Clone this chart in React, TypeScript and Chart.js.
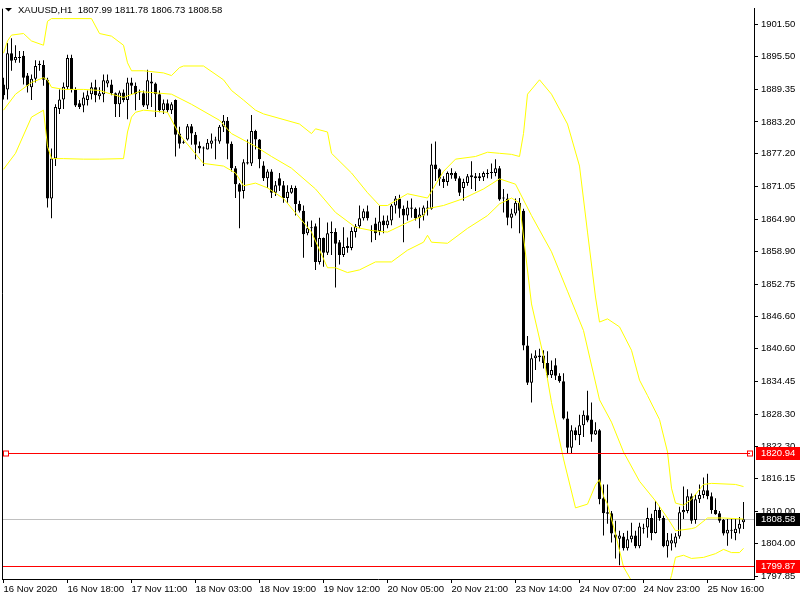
import React, { useEffect, useRef } from "react";
import { Chart, registerables } from "chart.js";
Chart.register(...registerables);

const symbolTitle = "XAUUSD,H1  1807.99 1811.78 1806.73 1808.58";

const opens = [
  1890.2, 1889.3, 1896.1, 1894.8, 1895.2, 1895.6, 1891.9, 1889.7, 1891.3, 1893.9,
  1893.9, 1891.1, 1868.8, 1876.3, 1885.6, 1887.4, 1889.7, 1895.2, 1889.3, 1886.7,
  1886.3, 1887.3, 1888.4, 1889.7, 1888.0, 1888.4, 1890.4, 1890.2, 1888.6, 1886.5,
  1888.7, 1887.3, 1890.6, 1890.0, 1888.7, 1888.6, 1886.3, 1890.8, 1890.4, 1888.4,
  1885.4, 1886.7, 1885.4, 1887.3, 1881.0, 1879.3, 1879.9, 1882.4, 1880.8, 1878.7,
  1878.2, 1878.0, 1879.1, 1879.7, 1879.5, 1882.3, 1883.4, 1879.1, 1874.5, 1871.5,
  1870.2, 1875.4, 1875.4, 1881.5, 1879.9, 1875.0, 1872.6, 1873.9, 1869.9, 1872.6,
  1871.3, 1868.9, 1869.9, 1870.8, 1867.8, 1866.5, 1862.3, 1863.2, 1863.6, 1856.9,
  1861.4, 1858.6, 1862.3, 1862.5, 1860.6, 1858.2, 1859.9, 1859.5, 1862.5, 1863.6,
  1865.1, 1866.4, 1862.7, 1864.1, 1862.7, 1864.7, 1863.8, 1864.7, 1867.5, 1868.8,
  1866.9, 1865.6, 1866.9, 1866.9, 1865.2, 1865.6, 1867.1, 1866.9, 1875.2, 1874.3,
  1872.5, 1871.9, 1873.2, 1873.6, 1872.6, 1870.8, 1871.7, 1872.8, 1873.0, 1873.0,
  1872.8, 1873.4, 1873.6, 1873.6, 1874.5, 1868.8, 1868.8, 1865.2, 1866.0, 1868.0,
  1866.5, 1841.2, 1834.2, 1838.8, 1839.3, 1839.3, 1837.9, 1835.6, 1837.5, 1835.5,
  1834.5, 1827.5, 1822.0, 1825.3, 1824.4, 1826.2, 1828.1, 1827.3, 1824.5, 1825.3,
  1812.5, 1809.9, 1809.7, 1805.7, 1804.9, 1805.3, 1803.1, 1804.8, 1805.5, 1803.5,
  1806.8, 1807.0, 1808.8, 1806.0, 1810.3, 1808.8, 1803.5, 1804.0, 1804.0, 1805.3,
  1809.9, 1810.1, 1812.9, 1808.4, 1812.3, 1813.1, 1814.0, 1812.9, 1810.3, 1809.7,
  1808.4, 1805.9, 1806.4, 1806.0, 1806.8, 1807.99,
];

const highs = [
  1891.5, 1898.0, 1898.9, 1897.6, 1896.5, 1896.5, 1892.4, 1892.1, 1894.8, 1894.7,
  1894.8, 1891.5, 1878.2, 1886.5, 1889.3, 1890.6, 1895.8, 1895.8, 1889.7, 1887.3,
  1888.7, 1889.1, 1890.6, 1891.1, 1889.7, 1892.1, 1892.1, 1891.1, 1888.7, 1889.1,
  1889.3, 1891.5, 1891.5, 1890.6, 1889.3, 1889.1, 1893.0, 1892.4, 1890.6, 1889.1,
  1887.4, 1887.4, 1886.9, 1887.4, 1882.3, 1879.7, 1882.8, 1882.8, 1881.3, 1879.5,
  1878.6, 1880.0, 1881.0, 1880.4, 1882.6, 1884.5, 1884.1, 1879.5, 1874.9, 1871.7,
  1876.2, 1879.9, 1884.5, 1881.7, 1880.0, 1875.8, 1874.3, 1874.3, 1872.1, 1873.6,
  1872.1, 1871.3, 1871.3, 1871.2, 1868.4, 1867.5, 1864.5, 1864.7, 1864.1, 1865.2,
  1861.5, 1864.3, 1864.5, 1863.2, 1861.0, 1863.4, 1861.5, 1863.4, 1864.0, 1867.5,
  1866.9, 1867.5, 1863.8, 1865.2, 1867.5, 1865.6, 1865.6, 1867.8, 1869.3, 1869.5,
  1867.5, 1868.4, 1868.8, 1867.1, 1867.1, 1867.5, 1868.4, 1879.1, 1879.5, 1874.5,
  1873.0, 1873.9, 1874.5, 1873.9, 1873.0, 1872.5, 1873.4, 1875.8, 1873.6, 1873.6,
  1873.9, 1874.3, 1875.4, 1876.2, 1874.9, 1870.6, 1869.7, 1866.9, 1868.8, 1868.9,
  1866.9, 1843.0, 1839.7, 1840.3, 1840.6, 1840.3, 1840.1, 1838.4, 1838.8, 1836.0,
  1836.0, 1828.8, 1826.2, 1825.8, 1828.2, 1829.0, 1832.7, 1830.5, 1826.8, 1825.5,
  1815.1, 1815.1, 1810.1, 1808.3, 1806.4, 1806.0, 1806.4, 1807.9, 1806.4, 1807.9,
  1807.7, 1810.7, 1809.6, 1812.0, 1811.0, 1809.2, 1806.0, 1805.9, 1806.0, 1810.9,
  1814.7, 1814.2, 1813.4, 1813.3, 1815.1, 1816.4, 1817.1, 1813.6, 1812.5, 1810.1,
  1808.6, 1808.6, 1808.6, 1808.6, 1809.0, 1811.78,
];

const lows = [
  1887.4, 1887.4, 1892.8, 1894.3, 1894.3, 1890.2, 1888.7, 1887.3, 1890.6, 1892.8,
  1890.0, 1867.1, 1865.1, 1874.9, 1884.7, 1885.6, 1889.3, 1888.7, 1886.0, 1885.6,
  1885.0, 1886.3, 1887.4, 1886.9, 1887.4, 1886.9, 1889.7, 1888.2, 1884.1, 1884.1,
  1886.9, 1883.7, 1888.4, 1885.4, 1887.3, 1886.0, 1885.6, 1886.0, 1884.1, 1885.0,
  1884.7, 1885.0, 1884.7, 1876.7, 1878.2, 1879.1, 1879.7, 1878.9, 1876.2, 1877.3,
  1874.9, 1878.0, 1878.2, 1876.2, 1879.1, 1881.3, 1876.2, 1873.9, 1868.9, 1863.2,
  1868.8, 1875.2, 1874.9, 1878.0, 1874.5, 1872.1, 1870.8, 1868.9, 1869.3, 1870.2,
  1868.0, 1868.0, 1869.7, 1865.6, 1866.2, 1857.7, 1861.9, 1859.7, 1855.4, 1856.4,
  1856.0, 1858.2, 1858.2, 1852.1, 1856.4, 1857.8, 1858.6, 1859.1, 1861.5, 1863.2,
  1864.7, 1864.7, 1860.6, 1861.0, 1861.9, 1862.3, 1863.2, 1863.8, 1866.0, 1865.2,
  1860.6, 1864.7, 1865.2, 1864.7, 1863.2, 1864.7, 1865.6, 1866.7, 1872.1, 1871.2,
  1870.8, 1871.2, 1872.5, 1872.1, 1869.3, 1868.4, 1871.2, 1870.6, 1870.2, 1872.1,
  1872.1, 1872.6, 1872.5, 1873.0, 1868.4, 1866.2, 1863.8, 1863.2, 1865.6, 1862.3,
  1840.3, 1833.8, 1830.5, 1836.6, 1838.2, 1836.9, 1835.1, 1835.1, 1834.7, 1834.2,
  1827.3, 1820.8, 1821.0, 1823.4, 1822.5, 1824.0, 1826.8, 1823.1, 1824.4, 1811.4,
  1805.5, 1807.7, 1804.2, 1801.2, 1799.9, 1802.7, 1802.7, 1804.2, 1803.1, 1803.1,
  1805.9, 1805.1, 1804.6, 1805.9, 1808.3, 1803.3, 1801.4, 1802.7, 1803.3, 1804.9,
  1808.6, 1809.7, 1807.7, 1807.7, 1811.6, 1812.5, 1812.3, 1809.6, 1809.4, 1807.9,
  1805.5, 1803.6, 1804.9, 1804.6, 1805.9, 1806.73,
];

const closes = [
  1888.2, 1896.1, 1894.7, 1895.4, 1895.2, 1891.5, 1890.0, 1891.3, 1893.7, 1894.1,
  1891.1, 1868.8, 1876.3, 1886.0, 1887.4, 1889.8, 1895.2, 1889.3, 1886.3, 1886.0,
  1887.8, 1888.2, 1889.7, 1888.2, 1888.6, 1891.0, 1891.0, 1888.6, 1886.5, 1888.7,
  1887.3, 1890.6, 1890.0, 1888.4, 1888.7, 1886.3, 1891.0, 1890.4, 1888.4, 1885.4,
  1886.7, 1885.4, 1886.5, 1880.8, 1879.1, 1879.3, 1882.4, 1881.0, 1878.9, 1878.2,
  1878.2, 1879.3, 1879.7, 1879.7, 1882.3, 1883.4, 1879.1, 1874.5, 1871.5, 1870.1,
  1875.6, 1875.6, 1881.5, 1879.9, 1876.2, 1872.6, 1873.9, 1869.9, 1871.3, 1871.2,
  1868.9, 1870.1, 1870.8, 1867.8, 1866.5, 1862.1, 1863.2, 1863.4, 1856.9, 1861.4,
  1858.6, 1862.3, 1862.5, 1860.3, 1858.2, 1859.7, 1859.5, 1862.7, 1863.6, 1865.1,
  1866.4, 1865.1, 1862.7, 1862.3, 1864.5, 1863.8, 1864.7, 1867.5, 1868.8, 1866.9,
  1865.6, 1867.1, 1867.1, 1865.1, 1865.8, 1867.1, 1866.9, 1875.2, 1874.3, 1872.5,
  1871.9, 1873.6, 1873.6, 1872.5, 1869.9, 1871.9, 1873.0, 1873.2, 1872.6, 1872.6,
  1873.6, 1873.6, 1873.8, 1874.5, 1868.6, 1868.8, 1865.2, 1866.0, 1868.0, 1866.5,
  1841.2, 1834.2, 1838.8, 1839.3, 1839.0, 1837.9, 1835.6, 1836.6, 1835.5, 1834.5,
  1827.5, 1822.0, 1825.3, 1824.4, 1826.2, 1828.2, 1827.1, 1824.5, 1825.3, 1812.3,
  1809.7, 1809.6, 1805.9, 1805.1, 1805.5, 1803.1, 1804.8, 1805.5, 1803.5, 1807.2,
  1806.8, 1808.8, 1806.0, 1810.3, 1808.8, 1803.5, 1804.6, 1804.6, 1805.3, 1809.9,
  1810.3, 1812.9, 1808.3, 1812.3, 1813.1, 1814.0, 1812.9, 1810.3, 1809.5, 1808.3,
  1805.9, 1806.6, 1806.6, 1806.8, 1807.7, 1808.58,
];

// Bollinger bands, read at selected bars (bar index -> price)
const upperIdx = [0, 1, 2, 5, 7, 10, 11, 12, 15, 22, 24, 27, 30, 31, 32, 35, 40, 42, 44, 45, 50, 55, 57, 60, 63, 65, 74, 77, 78, 81, 82, 87, 91, 94, 96, 101, 106, 110, 113, 118, 121, 124, 127, 129, 130, 131, 134, 137, 141, 144, 146, 148, 149, 151, 154, 157, 159, 161, 164, 166, 167, 168, 170, 172, 175, 177, 183, 185];
const upperVal = [1896.1, 1898.4, 1899.5, 1899.8, 1898.4, 1897.6, 1902.1, 1902.6, 1902.6, 1902.6, 1899.8, 1899.3, 1897.6, 1894.3, 1892.8, 1892.8, 1892.4, 1891.9, 1893.4, 1893.7, 1893.7, 1891.1, 1889.1, 1887.3, 1885.4, 1884.7, 1882.8, 1881.0, 1881.9, 1881.3, 1877.3, 1873.6, 1869.9, 1867.5, 1867.5, 1869.7, 1868.9, 1873.9, 1876.2, 1876.7, 1877.5, 1877.3, 1877.1, 1876.7, 1881.0, 1888.4, 1891.1, 1888.4, 1882.8, 1874.9, 1862.5, 1850.3, 1845.6, 1846.2, 1844.7, 1840.3, 1834.7, 1831.8, 1827.3, 1821.2, 1814.4, 1811.6, 1811.2, 1812.3, 1815.1, 1815.3, 1815.1, 1814.7];

const midIdx = [0, 3, 7, 10, 11, 12, 15, 20, 24, 27, 30, 34, 42, 47, 54, 57, 63, 67, 72, 78, 83, 88, 92, 96, 101, 105, 106, 110, 115, 120, 124, 128, 132, 137, 141, 145, 149, 152, 155, 159, 163, 166, 168, 172, 173, 176, 180, 185];
const midVal = [1885.4, 1888.4, 1890.6, 1891.5, 1891.1, 1889.7, 1889.3, 1889.3, 1889.1, 1888.4, 1887.8, 1888.9, 1888.4, 1886.5, 1883.5, 1881.0, 1878.6, 1876.7, 1874.5, 1870.6, 1866.2, 1863.4, 1862.8, 1862.5, 1864.3, 1865.6, 1866.9, 1867.5, 1868.8, 1870.6, 1872.5, 1871.5, 1865.6, 1858.8, 1851.4, 1844.0, 1831.0, 1826.8, 1821.2, 1815.7, 1812.0, 1808.8, 1806.4, 1806.8, 1807.0, 1808.8, 1808.8, 1808.6];

const lowIdx = [0, 3, 7, 10, 11, 12, 15, 20, 24, 30, 31, 32, 33, 35, 41, 44, 50, 55, 58, 60, 63, 66, 70, 77, 81, 83, 86, 89, 93, 97, 101, 105, 106, 107, 111, 116, 121, 124, 127, 129, 132, 135, 137, 140, 143, 146, 148, 149, 150, 151, 153, 155, 157, 160, 163, 165, 166, 167, 168, 170, 172, 175, 178, 180, 182, 184, 185];
const lowVal = [1874.3, 1877.3, 1884.1, 1885.4, 1878.6, 1876.3, 1876.3, 1876.2, 1876.2, 1876.3, 1881.3, 1884.1, 1885.0, 1885.4, 1885.0, 1880.8, 1875.4, 1874.9, 1873.6, 1871.2, 1871.7, 1870.8, 1868.8, 1862.5, 1855.8, 1855.8, 1854.9, 1855.4, 1856.9, 1856.9, 1859.1, 1860.6, 1861.9, 1860.6, 1860.4, 1863.2, 1865.6, 1867.8, 1868.9, 1868.0, 1849.0, 1839.2, 1830.5, 1819.9, 1810.7, 1811.4, 1815.0, 1816.0, 1812.9, 1811.4, 1805.8, 1799.6, 1797.0, 1793.0, 1791.5, 1793.5, 1795.5, 1798.0, 1801.4, 1801.8, 1801.2, 1801.4, 1802.1, 1802.9, 1802.3, 1802.3, 1803.1];

const yTickValues = [1901.5, 1895.5, 1889.35, 1883.2, 1877.2, 1871.05, 1864.9, 1858.9, 1852.75, 1846.6, 1840.6, 1834.45, 1828.3, 1822.3, 1816.15, 1810.0, 1804.0, 1797.85];

const xTickIdx = [0, 16, 32, 48, 64, 80, 96, 112, 128, 144, 160, 176];
const xTickLabels = ["16 Nov 2020", "16 Nov 18:00", "17 Nov 11:00", "18 Nov 03:00", "18 Nov 19:00", "19 Nov 12:00", "20 Nov 05:00", "20 Nov 21:00", "23 Nov 14:00", "24 Nov 07:00", "24 Nov 23:00", "25 Nov 16:00"];

const levelUpper = 1820.94;
const levelBid = 1808.58;
const levelLower = 1799.87;

const FONT = '"Liberation Sans", Arial, sans-serif';
const FSIZE = 9.5;

export default function App() {
  const ref = useRef<HTMLCanvasElement>(null);

  useEffect(() => {
    const canvas = ref.current;
    if (!canvas) return;
    const n = opens.length;
    const idx = opens.map((_, i) => i);
    const bodyData = idx.map((i) => ({ x: i, y: [opens[i], closes[i]] }));
    const wickData = idx.map((i) => ({ x: i, y: [lows[i], highs[i]] }));
    const bodyBg = idx.map((i) => (closes[i] >= opens[i] ? "#ffffff" : "#000000"));
    const band = (ix: number[], v: number[]) => ix.map((x, k) => ({ x, y: v[k] }));

    const overlay = {
      id: "mtOverlay",
      beforeDatasetsDraw(chart: any) {
        const { ctx, chartArea: a, scales } = chart;
        const y = scales.y;
        ctx.save();
        const line = (price: number, color: string, x0: number, x1: number) => {
          const py = Math.round(y.getPixelForValue(price)) + 0.5;
          ctx.strokeStyle = color;
          ctx.lineWidth = 1;
          ctx.beginPath();
          ctx.moveTo(x0, py);
          ctx.lineTo(x1, py);
          ctx.stroke();
          return py;
        };
        line(levelBid, "#c0c0c0", a.left, a.right);
        ctx.restore();
      },
      afterDatasetsDraw(chart: any) {
        const { ctx, chartArea: a, scales } = chart;
        const y = scales.y;
        ctx.save();
        const line = (price: number, color: string, x0: number, x1: number) => {
          const py = Math.round(y.getPixelForValue(price)) + 0.5;
          ctx.strokeStyle = color;
          ctx.lineWidth = 1;
          ctx.beginPath();
          ctx.moveTo(x0, py);
          ctx.lineTo(x1, py);
          ctx.stroke();
          return py;
        };
        const pu = line(levelUpper, "#ff0000", a.left + 6, a.right - 4);
        ctx.strokeStyle = "#ff0000";
        ctx.strokeRect(a.left + 1.5, pu - 2.5 , 5, 5);
        ctx.strokeRect(a.right - 6.5, pu - 2.5, 5, 5);
        line(levelLower, "#ff0000", a.left, a.right);
        ctx.restore();
      },
      afterDraw(chart: any) {
        const { ctx, chartArea: a, scales } = chart;
        const y = scales.y;
        ctx.save();
        // left frame
        ctx.strokeStyle = "#000";
        ctx.lineWidth = 1;
        ctx.beginPath();
        ctx.moveTo(a.left + 0.5, a.top);
        ctx.lineTo(a.left + 0.5, a.bottom);
        ctx.stroke();
        // title
        ctx.fillStyle = "#000";
        ctx.beginPath();
        ctx.moveTo(5, 8);
        ctx.lineTo(12, 8);
        ctx.lineTo(8.5, 11.5);
        ctx.closePath();
        ctx.fill();
        ctx.font = `${FSIZE}px ${FONT}`;
        ctx.textBaseline = "middle";
        ctx.textAlign = "left";
        ctx.fillText(symbolTitle, 18, 10.5);
        // price boxes
        const box = (price: number, bg: string) => {
          const py = Math.round(y.getPixelForValue(price));
          ctx.fillStyle = bg;
          ctx.fillRect(a.right + 2, py - 6, 800 - a.right - 2, 13);
          ctx.fillStyle = "#fff";
          ctx.fillText(price.toFixed(2), a.right + 7, py + 0.5);
        };
        box(levelUpper, "#ff0000");
        box(levelBid, "#000000");
        box(levelLower, "#ff0000");
        ctx.restore();
      },
    };

    const chart = new Chart(canvas, {
      type: "bar",
      data: {
        datasets: [
          { type: "line", data: band(upperIdx, upperVal), borderColor: "#ffff00", borderWidth: 1, pointRadius: 0, tension: 0, order: 0 } as any,
          { type: "line", data: band(midIdx, midVal), borderColor: "#ffff00", borderWidth: 1, pointRadius: 0, tension: 0, order: 0 } as any,
          { type: "line", data: band(lowIdx, lowVal), borderColor: "#ffff00", borderWidth: 1, pointRadius: 0, tension: 0, order: 0 } as any,
          {
            type: "bar", data: bodyData as any, backgroundColor: bodyBg, borderColor: "#000000", borderWidth: 1,
            borderSkipped: false, barThickness: 3, grouped: false, minBarLength: 1, inflateAmount: 0, order: 1,
          } as any,
          {
            type: "bar", data: wickData as any, backgroundColor: "#000000", borderWidth: 0,
            barThickness: 1, grouped: false, inflateAmount: 0, order: 2,
          } as any,
        ],
      },
      options: {
        animation: false,
        responsive: false,
        devicePixelRatio: 1,
        layout: { padding: { left: 2, top: 0, right: 0, bottom: 0 } },
        plugins: { legend: { display: false }, tooltip: { enabled: false }, title: { display: false } },
        scales: {
          x: {
            type: "linear",
            min: -0.375,
            max: n + 1.625,
            offset: false,
            afterFit: (s: any) => { s.height = 21; },
            afterBuildTicks: (s: any) => { s.ticks = xTickIdx.map((v) => ({ value: v })); },
            grid: { display: true, drawOnChartArea: false, drawTicks: true, tickLength: 4, color: "#000", offset: false },
            border: { display: true, color: "#000" },
            ticks: {
              autoSkip: false, maxRotation: 0, minRotation: 0, align: "start", padding: 1, color: "#000",
              font: { family: FONT, size: FSIZE },
              callback: (v: any) => { const k = xTickIdx.indexOf(Number(v)); return k >= 0 ? xTickLabels[k] : ""; },
            },
          },
          y: {
            type: "linear",
            position: "right",
            min: 1797.34,
            max: 1904.46,
            afterFit: (s: any) => { s.width = 46; },
            afterBuildTicks: (s: any) => { s.ticks = yTickValues.map((v) => ({ value: v })); },
            grid: { display: true, drawOnChartArea: false, drawTicks: true, tickLength: 4, color: "#000" },
            border: { display: true, color: "#000" },
            ticks: { padding: 3, color: "#000", font: { family: FONT, size: FSIZE }, callback: (v: any) => Number(v).toFixed(2) },
          },
        },
      } as any,
      plugins: [overlay],
    });
    return () => chart.destroy();
  }, []);

  return (
    <div style={{ position: "fixed", left: 0, top: 0, width: 800, height: 600, background: "#fff" }}>
      <canvas ref={ref} width={800} height={600} style={{ display: "block", width: 800, height: 600 }} />
    </div>
  );
}
